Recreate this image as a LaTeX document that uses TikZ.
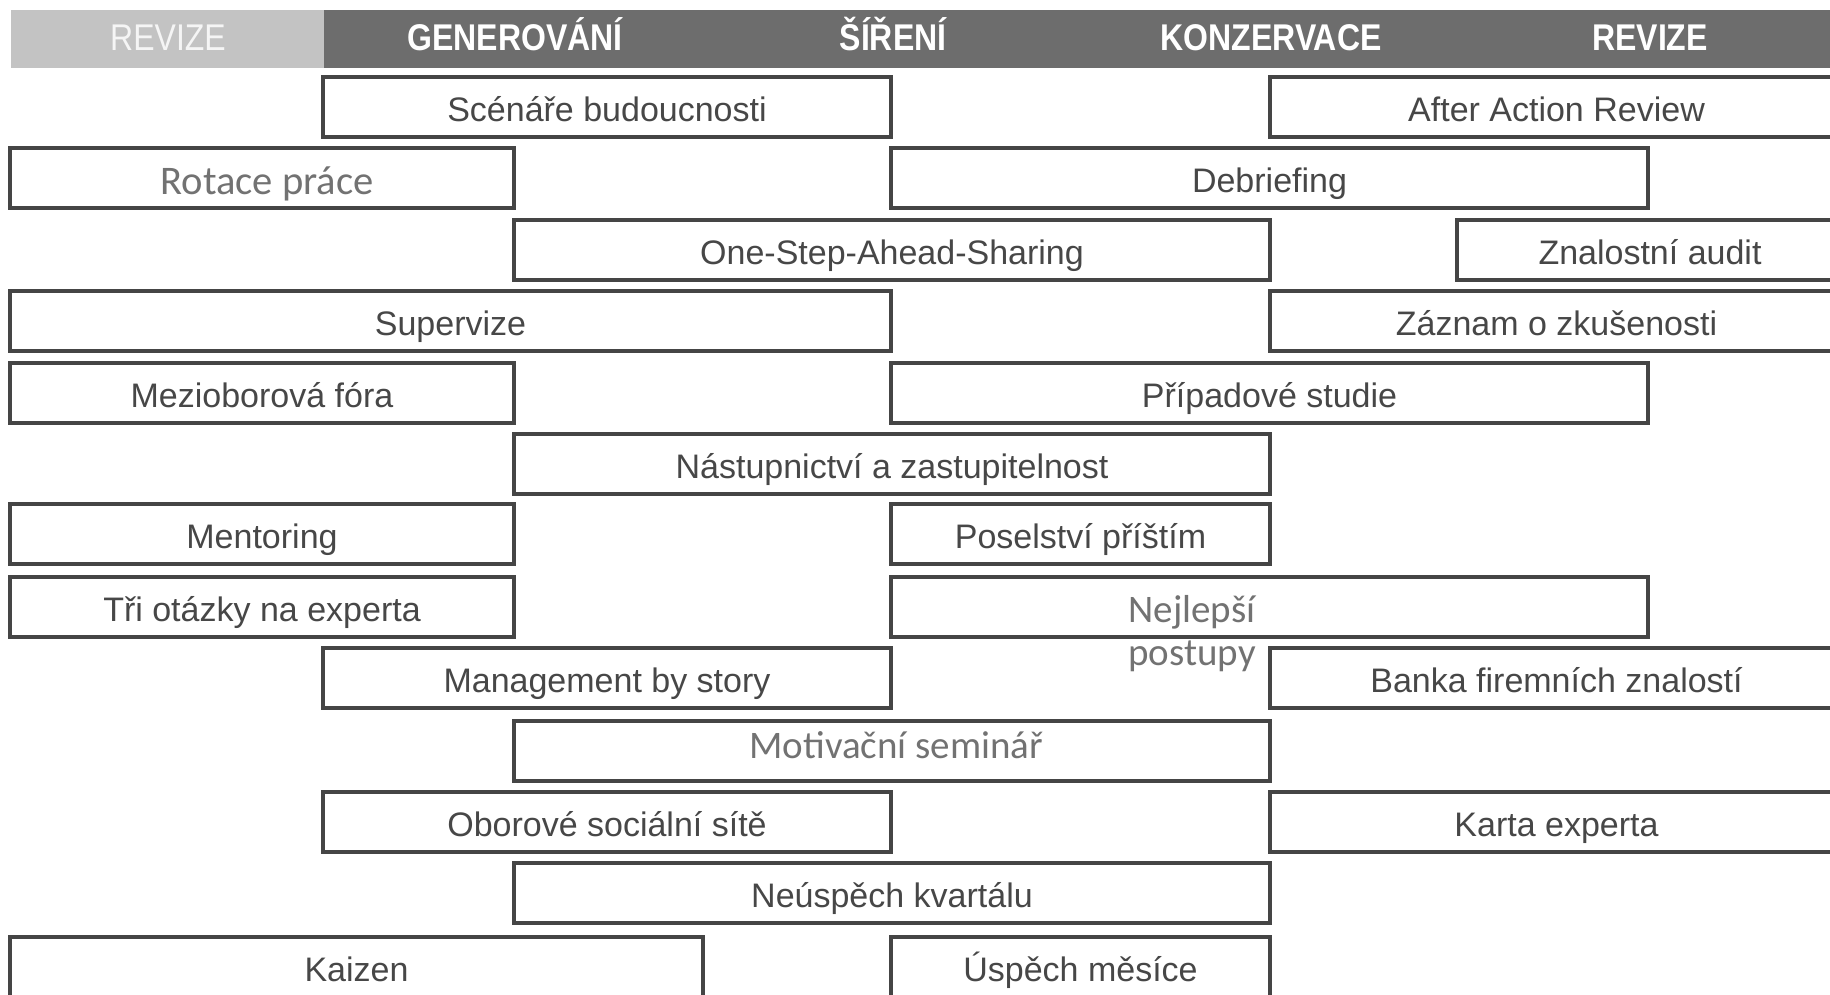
\documentclass[tikz,border=0pt]{standalone}
\usepackage{fontspec}
\setmainfont{Liberation Sans}
\newfontfamily\bodyfont{Liberation Sans}
\newfontfamily\headfont[FakeStretch=0.86]{Liberation Sans}
\newfontfamily\calfont{Carlito}
\definecolor{hdark}{HTML}{6D6D6D}
\definecolor{hlight}{HTML}{C3C3C3}
\definecolor{boxline}{HTML}{454545}
\definecolor{bodytext}{HTML}{474747}
\definecolor{caltext}{HTML}{727272}
\begin{document}
\begin{tikzpicture}[x=0.5pt,y=-0.5pt,
  box/.style={draw=boxline, line width=1.6pt, fill=white, minimum height=30pt,
    inner sep=0pt, text height=14.3pt, text depth=0pt,
    font=\bodyfont\fontsize{17}{20}\selectfont, text=bodytext},
  bw/.style={minimum width=#1*0.5pt},
  hbar/.style={inner sep=0pt, minimum height=29pt},
  head/.style={anchor=base, inner sep=0pt, text=white,
    font=\headfont\bfseries\fontsize{18.6}{20}\selectfont},
  headlight/.style={anchor=base, inner sep=0pt, text=white!96!black,
    font=\headfont\fontsize{18.6}{20}\selectfont},
  cal/.style={anchor=base west, inner sep=0pt, text=caltext,
    font=\calfont\fontsize{19.5}{22}\selectfont}]
\useasboundingbox (0,0) rectangle (1830,995);
\clip (0,0) rectangle (1830,995);
% header
\node[hbar, fill=hlight, minimum width=313*0.5pt] (hl) at (167.5,39) {};
\node[hbar, fill=hdark, minimum width=1506*0.5pt] (hd) at (1077,39) {};
\node[headlight] (h1) at (168,51) {REVIZE};
\node[head] (h2) at (515,51) {GENEROVÁNÍ};
\node[head] (h3) at (893,51) {ŠÍŘENÍ};
\node[head] (h4) at (1271,51) {KONZERVACE};
\node[head] (h5) at (1650,51) {REVIZE};
% row 1
\node[box, bw=568] (b1) at (607,107) {Scénáře budoucnosti};
\node[box, bw=573] (b2) at (1556.5,107) {After Action Review};
% row 2
\node[box, bw=504] (b3) at (262,178) {};
\node[cal, font=\calfont\fontsize{20.3}{22}\selectfont] (t3) at (160,194) {Rotace práce};
\node[box, bw=757] (b4) at (1269.5,178) {Debriefing};
% row 3
\node[box, bw=756] (b5) at (892,250) {One-Step-Ahead-Sharing};
\node[box, bw=386] (b6) at (1650,250) {Znalostní audit};
% row 4
\node[box, bw=881] (b7) at (450.5,321) {Supervize};
\node[box, bw=573] (b8) at (1556.5,321) {Záznam o zkušenosti};
% row 5
\node[box, bw=504] (b9) at (262,393) {Mezioborová fóra};
\node[box, bw=757] (b10) at (1269.5,393) {Případové studie};
% row 6
\node[box, bw=756] (b11) at (892,464) {Nástupnictví a zastupitelnost};
% row 7
\node[box, bw=504] (b12) at (262,534) {Mentoring};
\node[box, bw=379] (b13) at (1080.5,534) {Poselství příštím};
% row 8
\node[box, bw=504] (b14) at (262,607) {Tři otázky na experta};
\node[box, bw=757] (b15) at (1269.5,607) {};
\node[cal] (t15a) at (1128,622) {Nejlepší};
\node[cal] (t15b) at (1128,665) {postupy};
% row 9
\node[box, bw=568] (b16) at (607,678) {Management by story};
\node[box, bw=573] (b17) at (1556.5,678) {Banka firemních znalostí};
% row 10
\node[box, bw=756] (b18) at (892,751) {};
\node[cal] (t18) at (749,758) {Motivační seminář};
% row 11
\node[box, bw=568] (b19) at (607,822) {Oborové sociální sítě};
\node[box, bw=573] (b20) at (1556.5,822) {Karta experta};
% row 12
\node[box, bw=756] (b21) at (892,893) {Neúspěch kvartálu};
% row 13
\node[box, bw=693] (b22) at (356.5,967) {Kaizen};
\node[box, bw=379] (b23) at (1080.5,967) {Úspěch měsíce};
\end{tikzpicture}
\end{document}
